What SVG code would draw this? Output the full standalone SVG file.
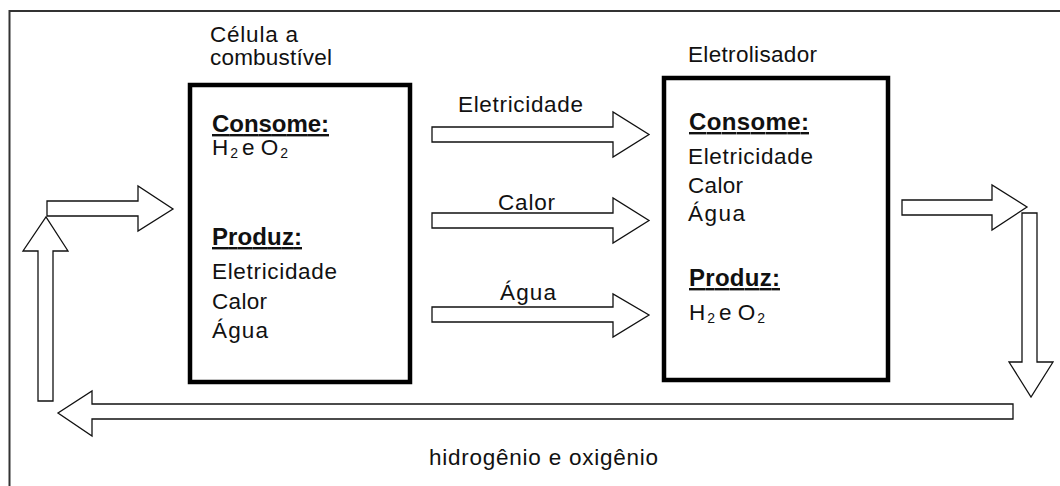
<svg xmlns="http://www.w3.org/2000/svg" width="1060" height="486" viewBox="0 0 1060 486">
<style>
text{font-family:"Liberation Sans",Arial,sans-serif;font-size:22.5px;fill:#111}
.h{font-weight:bold;font-size:24px;text-decoration:underline}
.box{fill:#fff;stroke:#000;stroke-width:4.5}
.arr{fill:#fff;stroke:#111;stroke-width:1.3;stroke-linejoin:miter}
.sub{font-size:14px}
</style>
<rect width="1060" height="486" fill="#fff"/>
<path d="M9.5 486V11H1060" fill="none" stroke="#333" stroke-width="2"/>
<g id="celula">
<rect class="box" x="190" y="85" width="220" height="297"/>
<text x="210" y="42" textLength="88" lengthAdjust="spacing">Célula a</text>
<text x="210" y="65" textLength="122" lengthAdjust="spacing">combustível</text>
<text class="h" x="212" y="132" textLength="117" lengthAdjust="spacing">Consome:</text>
<text x="212" y="155">H<tspan class="sub" dx="2" dy="3">2</tspan><tspan dx="4" dy="-3">e O</tspan><tspan class="sub" dx="2" dy="3">2</tspan></text>
<text class="h" x="212" y="245" textLength="90" lengthAdjust="spacing">Produz:</text>
<text x="212" y="279" textLength="125" lengthAdjust="spacing">Eletricidade</text>
<text x="212" y="309" textLength="55" lengthAdjust="spacing">Calor</text>
<text x="212" y="338" textLength="56" lengthAdjust="spacing">Água</text>
</g>
<g id="eletrolisador">
<rect class="box" x="664" y="78" width="224" height="302"/>
<text x="688" y="62" textLength="129" lengthAdjust="spacing">Eletrolisador</text>
<text class="h" x="689" y="130" textLength="120" lengthAdjust="spacing">Consome:</text>
<text x="688" y="164" textLength="125" lengthAdjust="spacing">Eletricidade</text>
<text x="688" y="193" textLength="55" lengthAdjust="spacing">Calor</text>
<text x="688" y="221" textLength="57" lengthAdjust="spacing">Água</text>
<text class="h" x="689" y="286" textLength="91" lengthAdjust="spacing">Produz:</text>
<text x="689" y="320">H<tspan class="sub" dx="2" dy="3">2</tspan><tspan dx="4" dy="-3">e O</tspan><tspan class="sub" dx="2" dy="3">2</tspan></text>
</g>
<g id="connectors">
<polygon class="arr" points="432,127 613,127 613,112 649,134.5 613,157 613,142 432,142"/>
<text x="458" y="112" textLength="125" lengthAdjust="spacing">Eletricidade</text>
<polygon class="arr" points="432,213 613,213 613,198 649,220.5 613,243 613,228 432,228"/>
<text x="498" y="210" textLength="57" lengthAdjust="spacing">Calor</text>
<polygon class="arr" points="432,307 613,307 613,294 649,315 613,337 613,322 432,322"/>
<text x="500" y="300" textLength="56" lengthAdjust="spacing">Água</text>
<polygon class="arr" points="902,200 992,200 992,185 1027,207 992,230 992,215 902,215"/>
<polygon class="arr" points="1022,213 1037,213 1037,362 1053,362 1031,397 1009,362 1022,362"/>
<polygon class="arr" points="1013,404 92,404 92,391 58,413 92,436 92,419 1013,419"/>
<text x="429" y="465" textLength="229" lengthAdjust="spacing">hidrogênio e oxigênio</text>
<polygon class="arr" points="38,401 38,251 23,251 46,217 68,251 53,251 53,401"/>
<polygon class="arr" points="47,216 47,201 138,201 138,186 173,209 138,231 138,216"/>
</g>
</svg>
